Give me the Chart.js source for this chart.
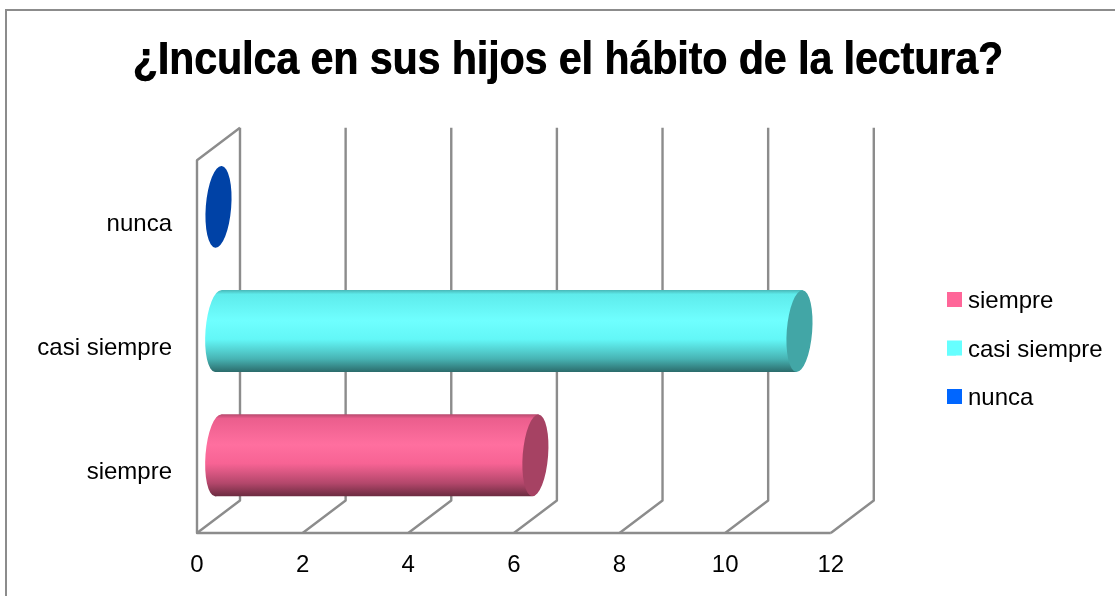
<!DOCTYPE html>
<html><head><meta charset="utf-8">
<style>html,body{margin:0;padding:0;background:#fff}canvas{display:block}</style>
<script src="https://cdn.jsdelivr.net/npm/chart.js@4/dist/chart.umd.js"></script>
</head><body>
<canvas id="c" width="1115" height="596"></canvas>
<script>
const titleText = '¿Inculca en sus hijos el hábito de la lectura?';
const categories = ['siempre', 'casi siempre', 'nunca'];
const values = [6, 11, 0];
const colors = ['#FF6699', '#66FFFF', '#0066FF'];
const capColors = ['#A64263', '#42A6A6', '#0042A6'];
const xMax = 12, xStep = 2;
const GRID = '#8c8c8c', DEPTH_X = 43, DEPTH_Y = 32.5;

function shade(hex, f) {
  const n = parseInt(hex.slice(1), 16);
  const c = [n >> 16 & 255, n >> 8 & 255, n & 255];
  return 'rgb(' + c.map(v => Math.min(255, Math.round(f >= 1 ? v + (255 - v) * (f - 1) : v * f))).join(',') + ')';
}

const threeD = {
  id: 'threeD',
  afterLayout(chart) {
    const t = chart.titleBlock, l = chart.legend;
    const shift = 568 - (t.left + t.right) / 2;
    t.left += shift; t.right += shift;
    if (!t._stretched) {
      t._stretched = true;
      const draw = t.draw;
      t.draw = function () {
        const c = chart.ctx;
        c.save();
        c.translate(-0.35, 58.5); c.scale(1, 1.12); c.translate(0, -58.5);
        draw.call(t);
        c.translate(0.7, 0);
        draw.call(t);
        c.restore();
      };
    }
    const w = l.right - l.left;
    l.left = 947 - 24.5; l.right = l.left + w;
    const h = l.bottom - l.top;
    l.top = 265; l.bottom = l.top + h;
    chart.scales.y.getLabelItems().forEach(it => {
      it.options.translation = [it.options.translation[0], it.options.translation[1] + 2];
    });
  },
  beforeDraw(chart) {
    const c = chart.ctx;
    c.save();
    c.strokeStyle = '#8c8c8c'; c.lineWidth = 2;
    c.beginPath(); c.moveTo(6, 596); c.lineTo(6, 10); c.lineTo(1115, 10); c.stroke();
    c.restore();
  },
  beforeDatasetsDraw(chart) {
    const c = chart.ctx, x = chart.scales.x, a = chart.chartArea;
    c.save();
    c.strokeStyle = GRID; c.lineWidth = 2.4; c.lineJoin = 'round';
    x.ticks.forEach(t => {
      const px = x.getPixelForValue(t.value);
      c.beginPath();
      c.moveTo(px, a.bottom);
      c.lineTo(px + DEPTH_X, a.bottom - DEPTH_Y);
      c.lineTo(px + DEPTH_X, a.top - DEPTH_Y);
      c.stroke();
    });
    const p0 = x.getPixelForValue(0), pm = x.getPixelForValue(xMax);
    c.beginPath();
    c.moveTo(p0 + DEPTH_X, a.top - DEPTH_Y);
    c.lineTo(p0, a.top);
    c.lineTo(p0, a.bottom);
    c.lineTo(pm, a.bottom);
    c.stroke();
    c.restore();
  },
  beforeDatasetDraw(chart, args) {
    const c = chart.ctx;
    const rot = 4.5 * Math.PI / 180, rx = 12.7;
    args.meta.data.forEach((bar, i) => {
      const x0 = bar.base + DEPTH_X / 2 - 0.3, x1 = bar.x + DEPTH_X / 2;
      const yc = bar.y - 15.5, ry = bar.height / 2, off = 3.2;
      const base = colors[i];
      c.save();
      if (bar.x > bar.base) {
        const g = c.createLinearGradient(0, yc - ry, 0, yc + ry);
        g.addColorStop(0, shade(base, 0.72));
        g.addColorStop(0.05, shade(base, 0.92));
        g.addColorStop(0.37, shade(base, 1.06));
        g.addColorStop(0.6, shade(base, 0.97));
        g.addColorStop(0.84, shade(base, 0.70));
        g.addColorStop(1, shade(base, 0.42));
        c.fillStyle = g;
        c.beginPath();
        c.ellipse(x0, yc, rx, ry, rot, 0, Math.PI * 2);
        c.fill();
        c.beginPath();
        c.moveTo(x0 + off, yc - ry); c.lineTo(x1 + off, yc - ry);
        c.lineTo(x1 - off, yc + ry); c.lineTo(x0 - off, yc + ry);
        c.closePath();
        c.fill();
      }
      c.fillStyle = capColors[i];
      c.beginPath();
      c.ellipse(x1, yc, rx, ry, rot, 0, Math.PI * 2);
      c.fill();
      c.restore();
    });
    return false;
  },
  afterDraw(chart) {
    const c = chart.ctx;
    c.save();
    chart.legend.legendHitBoxes.forEach((b, i) => {
      c.fillStyle = colors[i];
      c.fillRect(b.left, b.top + (b.height - 15) / 2 - 2, 15, 15);
    });
    c.restore();
  }
};

new Chart(document.getElementById('c'), {
  type: 'bar',
  data: {
    labels: categories,
    datasets: [{ label: 'Respuestas', data: values, backgroundColor: colors,
      barPercentage: 0.66, categoryPercentage: 1 }]
  },
  plugins: [threeD],
  options: {
    indexAxis: 'y', responsive: false, animation: false,
    layout: { padding: { left: 0, right: 94, top: 0, bottom: 0 } },
    plugins: {
      tooltip: { enabled: false },
      title: { display: true, text: titleText, color: '#000',
        font: { family: '"Liberation Sans"', size: 41, weight: 'bold', lineHeight: 1.2 },
        padding: { top: 36.5, bottom: 74.5 } },
      legend: { position: 'right', align: 'start',
        labels: { boxWidth: 9, boxHeight: 11, padding: 24.5, color: '#000',
          font: { family: '"Liberation Sans"', size: 24 },
          generateLabels: () => categories.map((t, i) => ({ text: t, fillStyle: colors[i],
            strokeStyle: 'rgba(0,0,0,0)', lineWidth: 0, hidden: false, index: i })) } }
    },
    scales: {
      x: { min: 0, max: xMax, grid: { display: false, drawTicks: false }, border: { display: false },
        ticks: { stepSize: xStep, padding: 18, color: '#000', maxRotation: 0,
          font: { family: '"Liberation Sans"', size: 24 } },
        afterFit(s) { s.height = 63; } },
      y: { reverse: true, grid: { display: false, drawTicks: false }, border: { display: false },
        ticks: { padding: 25, color: '#000',
          font: { family: '"Liberation Sans"', size: 24 } },
        afterFit(s) { s.width = 197; } }
    }
  }
});
</script>
</body></html>
